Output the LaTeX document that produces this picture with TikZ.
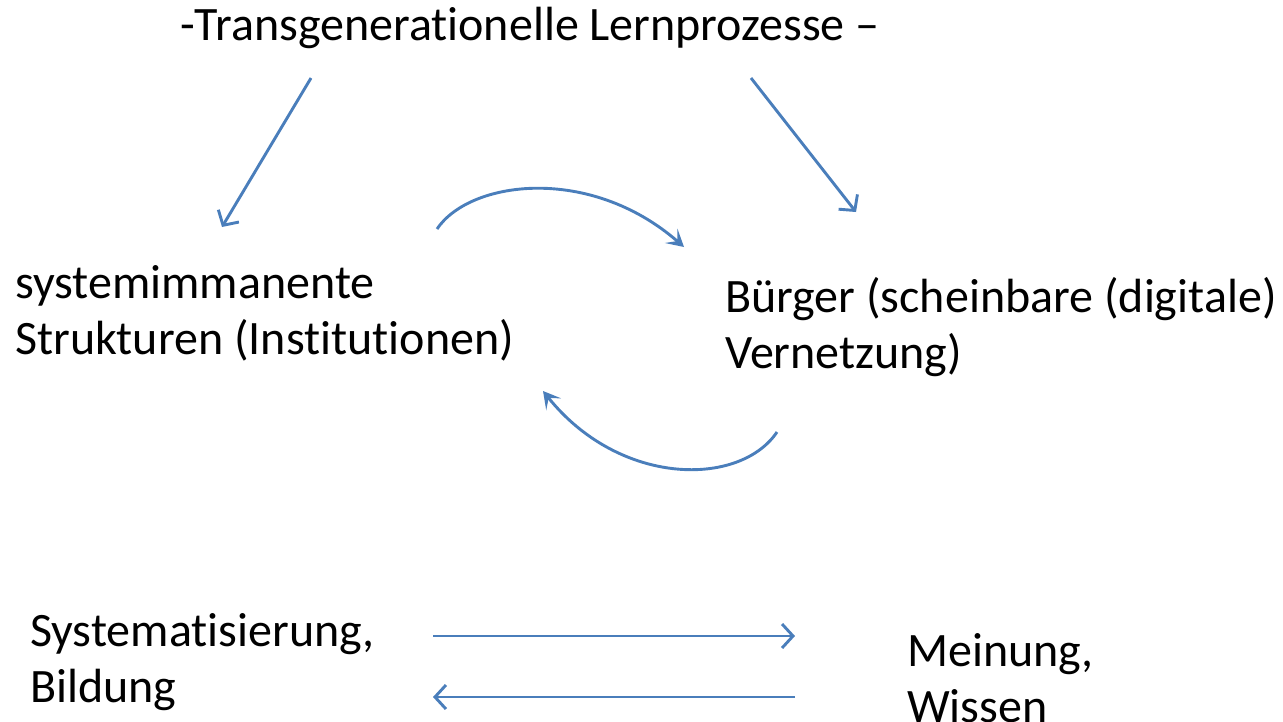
\documentclass[tikz,border=0pt]{standalone}
\usepackage{fontspec}
\setmainfont[Ligatures=NoCommon]{Carlito}
\usetikzlibrary{arrows.meta}
\definecolor{arr}{HTML}{4A7EBB}
\tikzset{
  lbl/.style={anchor=west, align=left, inner sep=0pt, font=\fontsize{48}{56}\selectfont},
  straight/.style={draw=arr, line width=2.9pt, -{Straight Barb[length=11pt,width=24pt,line width=2.9pt]}},
  curved/.style={draw=arr, line width=2.9pt, -{Stealth[length=17pt,width=19pt,inset=8pt]}}
}
\begin{document}
\begin{tikzpicture}[x=1pt,y=-1pt]
\useasboundingbox (0,0) rectangle (1283,721);
\node[lbl] (title) at (180,28) {-Transgenerationelle Lernprozesse –};
\node[lbl] (sys) at (15,313) {systemimmanente\\Strukturen (Institutionen)};
\node[lbl] (buerger) at (725,327) {Bürger (scheinbare (digitale)\\Vernetzung)};
\node[lbl] (sysbild) at (30,662) {Systematisierung,\\Bildung};
\node[lbl] (meinung) at (907,678) {Meinung,\\Wissen};
\coordinate (l1) at (311,78);
\coordinate (l2) at (222,227);
\coordinate (r1) at (751,78);
\coordinate (r2) at (856,212);
\coordinate (c1) at (437,229);
\coordinate (c2) at (684,247);
\coordinate (d1) at (777,432);
\coordinate (d2) at (543,391);
\coordinate (h1) at (433,636);
\coordinate (h2) at (795,636);
\coordinate (g1) at (795,697);
\coordinate (g2) at (433,697);
\draw[straight] (l1) -- (l2);
\draw[straight] (r1) -- (r2);
\draw[curved] (c1) .. controls (470,180) and (590,165) .. (c2);
\draw[curved] (d1) .. controls (740,487) and (620,487) .. (d2);
\draw[straight] (h1) -- (h2);
\draw[straight] (g1) -- (g2);
\end{tikzpicture}
\end{document}
